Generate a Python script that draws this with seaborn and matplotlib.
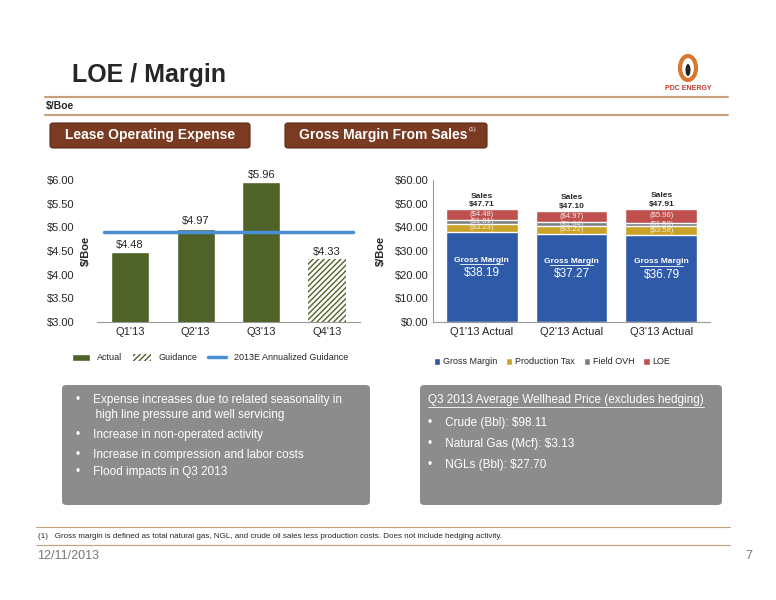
import numpy as np
import pandas as pd
import matplotlib
matplotlib.use("Agg")
import matplotlib.pyplot as plt
from matplotlib.patches import FancyBboxPatch, Patch, Ellipse
from matplotlib.lines import Line2D
import seaborn as sns

# --- data ---
loe_quarters = ["Q1'13", "Q2'13", "Q3'13", "Q4'13"]
loe_values = [4.48, 4.97, 5.96, 4.33]
guidance = 4.9

gm_quarters = ["Q1'13 Actual", "Q2'13 Actual", "Q3'13 Actual"]
gross_margin = [38.19, 37.27, 36.79]
production_tax = [3.23, 3.22, 3.58]
field_ovh = [1.81, 1.64, 1.58]
loe_cost = [4.48, 4.97, 5.96]
sales = [47.71, 47.10, 47.91]

sns.set_style("white")
plt.rcParams['font.family'] = ['Liberation Sans', 'DejaVu Sans']

W, H = 776, 600
fig = plt.figure(figsize=(W / 100, H / 100), dpi=100)


def fx(x):
    return x / W


def fy(y):
    return 1 - y / H


# header
fig.text(fx(72), fy(75), "LOE / Margin", fontsize=18, fontweight="bold", va="center")
fig.add_artist(Line2D([fx(45), fx(728)], [fy(97), fy(97)], color="#c8a07a", lw=1.5))
fig.text(fx(46), fy(106), "$/Boe", fontsize=7.5, fontweight="bold", va="center")
fig.add_artist(Line2D([fx(45), fx(728)], [fy(115), fy(115)], color="#c8a07a", lw=1.5))

# logo
fig.add_artist(Ellipse((fx(688), fy(68)), fx(16), 24 / H, transform=fig.transFigure,
                       fc="none", ec="#d9782d", lw=3))
fig.add_artist(Ellipse((fx(688), fy(70)), fx(5), 12 / H, transform=fig.transFigure,
                       fc="#222222", ec="none"))
fig.text(fx(688), fy(88), "PDC ENERGY", fontsize=5, fontweight="bold", color="#c0392b", ha="center", va="center")

# section headers
for x0, x1 in [(50, 250), (285, 487)]:
    box = FancyBboxPatch((fx(x0), fy(148)), fx(x1 - x0), 25 / H,
                         boxstyle="round,pad=0,rounding_size=0.004",
                         transform=fig.transFigure, fc="#7a3b22", ec="#5a2a18", lw=0.8)
    fig.add_artist(box)
fig.text(fx(150), fy(135.5), "Lease Operating Expense", color="white", fontsize=10, fontweight="bold", ha="center", va="center")
fig.text(fx(383), fy(135.5), "Gross Margin From Sales", color="white", fontsize=10, fontweight="bold", ha="center", va="center")
fig.text(fx(469), fy(129), "(1)", color="white", fontsize=4.5, va="center")

# left chart: LOE
ax1 = fig.add_axes([fx(97), fy(322), fx(263), 142 / H])
df1 = pd.DataFrame({"q": loe_quarters, "v": loe_values})
sns.barplot(data=df1, x="q", y="v", ax=ax1, color="#4f6228", width=0.58, saturation=1)
bars = ax1.patches
bars[3].set_facecolor("white")
bars[3].set_hatch("//////")
bars[3].set_edgecolor("#4f6228")
bars[3].set_linewidth(0)
ax1.plot([-0.4, 3.4], [guidance, guidance], color="#4a8fd4", lw=2.5)
for i, v in enumerate(loe_values):
    ax1.text(i, v + 0.05, f"${v:.2f}", ha="center", va="bottom", fontsize=8)
ax1.set_ylim(3, 6)
ax1.set_yticks(np.arange(3, 6.01, 0.5))
ax1.set_yticklabels([f"${t:.2f}" for t in np.arange(3, 6.01, 0.5)], fontsize=8)
ax1.tick_params(axis="x", labelsize=8, length=0)
ax1.tick_params(axis="y", length=0, pad=16)
ax1.set_xlabel("")
ax1.set_ylabel("$/Boe", fontsize=8, fontweight="bold")
ax1.yaxis.set_label_coords(-0.025, 0.5)
ax1.set_xlim(-0.5, 3.5)
ax1.grid(False)
for s in ["top", "right", "left"]:
    ax1.spines[s].set_visible(False)
ax1.spines["bottom"].set_color("#999999")

# left legend
h = [Patch(fc="#4f6228"), Patch(fc="white", hatch="//////", ec="#4f6228", lw=0),
     Line2D([0], [0], color="#4a8fd4", lw=2.5)]
fig.legend(h, ["Actual", "Guidance", "2013E Annualized Guidance"], loc="center",
           bbox_to_anchor=(fx(210), fy(358)), ncol=3, frameon=False, fontsize=6.5,
           handlelength=2, columnspacing=1.2)

# right chart: gross margin stacked
ax2 = fig.add_axes([fx(433), fy(322), fx(277), 142 / H])
layers = [("LOE", "#c0504d"), ("Field OVH", "#7f7f7f"),
          ("Production Tax", "#c9a227"), ("Gross Margin", "#2e5aa8")]
stack = np.array([gross_margin, production_tax, field_ovh, loe_cost])
cum = np.cumsum(stack, axis=0)
for k, (name, col) in enumerate(layers):
    df2 = pd.DataFrame({"q": gm_quarters, "v": cum[3 - k]})
    sns.barplot(data=df2, x="q", y="v", ax=ax2, color=col, width=0.8, saturation=1)
for i in range(3):
    ax2.text(i, cum[0][i] / 2 + 7, "Gross Margin", ha="center", va="center", fontsize=6,
             color="white", fontweight="bold")
    ax2.plot([i - 0.24, i + 0.24], [cum[0][i] / 2 + 5.4] * 2, color="white", lw=0.6)
    ax2.text(i, cum[0][i] / 2 + 1.5, f"${gross_margin[i]:.2f}", ha="center", va="center", fontsize=8.5, color="white")
    ax2.text(i, cum[0][i] + production_tax[i] / 2, f"(${production_tax[i]:.2f})", ha="center", va="center", fontsize=5.5, color="#eeeeee")
    ax2.text(i, cum[1][i] + field_ovh[i] / 2, f"(${field_ovh[i]:.2f})", ha="center", va="center", fontsize=5.5, color="#eeeeee")
    ax2.text(i, cum[2][i] + loe_cost[i] / 2, f"(${loe_cost[i]:.2f})", ha="center", va="center", fontsize=5.5, color="#eeeeee")
    ax2.text(i, sales[i] + 4.0, "Sales", ha="center", va="bottom", fontsize=6, fontweight="bold")
    ax2.text(i, sales[i] + 0.4, f"${sales[i]:.2f}", ha="center", va="bottom", fontsize=6, fontweight="bold")
ax2.set_ylim(0, 60)
ax2.set_yticks(np.arange(0, 61, 10))
ax2.set_yticklabels([f"${t:.2f}" for t in np.arange(0, 61, 10)], fontsize=8)
ax2.tick_params(axis="x", labelsize=8, length=0)
ax2.tick_params(axis="y", length=0)
ax2.set_xlabel("")
ax2.set_ylabel("$/Boe", fontsize=8, fontweight="bold")
ax2.yaxis.set_label_coords(-0.17, 0.5)
ax2.grid(False)
for s in ["top", "right"]:
    ax2.spines[s].set_visible(False)
ax2.spines["bottom"].set_color("#999999")
ax2.spines["left"].set_color("#999999")
h2 = [Patch(fc=c) for c in ["#2e5aa8", "#c9a227", "#7f7f7f", "#c0504d"]]
fig.legend(h2, ["Gross Margin", "Production Tax", "Field OVH", "LOE"], loc="center",
           bbox_to_anchor=(fx(552), fy(362)), ncol=4, frameon=False, fontsize=6.5,
           handlelength=0.7, handleheight=0.7, columnspacing=1.0, handletextpad=0.3)

# gray text boxes
for x0, x1 in [(62, 370), (420, 722)]:
    fig.add_artist(FancyBboxPatch((fx(x0), fy(505)), fx(x1 - x0), 120 / H,
                                  boxstyle="round,pad=0,rounding_size=0.006",
                                  transform=fig.transFigure, fc="#8c8c8c", ec="none"))
left_items = [(400, "\u2022    Expense increases due to related seasonality in"),
              (415, "      high line pressure and well servicing"),
              (435, "\u2022    Increase in non-operated activity"),
              (455, "\u2022    Increase in compression and labor costs"),
              (472, "\u2022    Flood impacts in Q3 2013")]
for y, t in left_items:
    fig.text(fx(76), fy(y), t, color="white", fontsize=8.5, va="center")
fig.text(fx(428), fy(400), "Q3 2013 Average Wellhead Price (excludes hedging)", color="white",
         fontsize=8.5, va="center")
fig.add_artist(Line2D([fx(428), fx(704)], [fy(407), fy(407)], color="white", lw=0.6))
for y, t in [(423, "Crude (Bbl): $98.11"), (444, "Natural Gas (Mcf): $3.13"), (465, "NGLs (Bbl): $27.70")]:
    fig.text(fx(428), fy(y), "\u2022    " + t, color="white", fontsize=8.5, va="center")

# footer
fig.add_artist(Line2D([fx(36), fx(730)], [fy(527), fy(527)], color="#c8a07a", lw=0.8))
fig.text(fx(38), fy(537), "(1)   Gross margin is defined as total natural gas, NGL, and crude oil sales less production costs. Does not include hedging activity.",
         fontsize=5.8, va="center")
fig.add_artist(Line2D([fx(36), fx(730)], [fy(545), fy(545)], color="#c8a07a", lw=0.8))
fig.text(fx(37), fy(556), "12/11/2013", fontsize=9, color="#777777", va="center")
fig.text(fx(745), fy(556), "7", fontsize=9, color="#777777", va="center")

fig.savefig("out.png", dpi=100)
